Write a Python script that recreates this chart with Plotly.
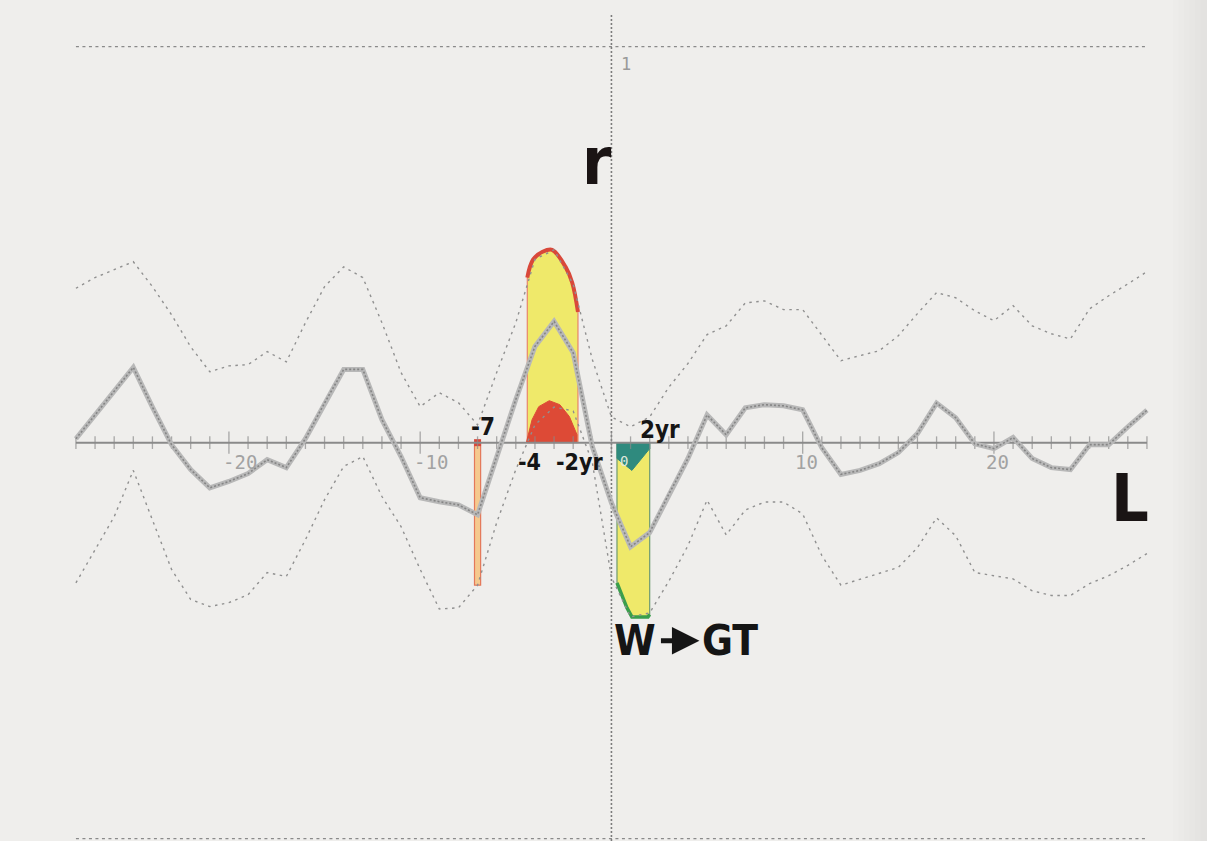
import plotly.graph_objects as go

# ---- cross-correlation r(L) of W against GT, lags in years ----
lags = list(range(-28, 29))

ccf = [0.01, 0.07, 0.13, 0.19, 0.09, -0.005, -0.068, -0.114, -0.098, -0.078,
       -0.043, -0.063, 0.01, 0.10, 0.185, 0.185, 0.058, -0.035, -0.139, -0.149,
       -0.157, -0.182, -0.035, 0.109, 0.243, 0.306, 0.227, -0.01, -0.152, -0.263,
       -0.227, -0.13, -0.04, 0.07, 0.02, 0.088, 0.096, 0.093, 0.083, -0.013,
       -0.08, -0.07, -0.053, -0.025, 0.023, 0.10, 0.063, -0.003, -0.015, 0.013,
       -0.04, -0.063, -0.068, -0.005, -0.005, 0.04, 0.082]

upper = [0.39, 0.417, 0.437, 0.457, 0.394, 0.323, 0.242, 0.179, 0.194, 0.197,
         0.23, 0.204, 0.303, 0.394, 0.444, 0.417, 0.303, 0.177, 0.091, 0.126,
         0.101, 0.045, 0.177, 0.303, 0.463, 0.487, 0.40, 0.21, 0.065, 0.04,
         0.065, 0.14, 0.20, 0.273, 0.295, 0.353, 0.358, 0.336, 0.336, 0.273,
         0.207, 0.22, 0.232, 0.27, 0.326, 0.379, 0.366, 0.333, 0.308, 0.346,
         0.295, 0.275, 0.262, 0.338, 0.371, 0.401, 0.432]

lower = [-0.354, -0.27, -0.187, -0.07, -0.194, -0.32, -0.396, -0.414, -0.404, -0.384,
         -0.328, -0.338, -0.245, -0.144, -0.06, -0.035, -0.136, -0.212, -0.32, -0.42,
         -0.417, -0.36, -0.202, -0.068, 0.045, 0.09, 0.08, -0.05, -0.34, -0.44,
         -0.43, -0.35, -0.26, -0.145, -0.233, -0.17, -0.15, -0.15, -0.18, -0.285,
         -0.36, -0.345, -0.33, -0.315, -0.265, -0.19, -0.235, -0.328, -0.336, -0.344,
         -0.374, -0.386, -0.386, -0.356, -0.336, -0.31, -0.28]

# hand-marked significant lags
lead_lags = [-4.4, -4.1, -3.6, -3.1, -2.4, -2.05, -1.75]       # upper band over the peak
lead_top = [0.417, 0.462, 0.482, 0.487, 0.444, 0.404, 0.33]
core_lags = [-4.45, -4.15, -3.8, -3.25, -2.7, -2.2, -1.8]      # inner red hump
core_top = [0.0, 0.058, 0.091, 0.106, 0.096, 0.066, 0.02]
lag_lags = [0.29, 0.81, 1.07, 1.91, 2.0]                        # lower band under the trough
lag_bottom = [-0.354, -0.417, -0.44, -0.44, -0.434]
teal_lags = [0.29, 1.07, 2.0]
teal_bottom = [-0.04, -0.07, -0.015]
spike_lag = -7

tick_values = [-20, -10, 10, 20]
tick_labels = ["-20", "-10", "10", "20"]

PAPER = "#efeeec"
GREY = "#8a8a8a"
INK = "#151515"
BOLD = "DejaVu Sans Condensed, Liberation Sans Narrow, sans-serif"

fig = go.Figure()

# reference lines r = +1 / -1 and the L = 0 axis
for level in (1, -1):
    fig.add_trace(go.Scatter(x=[lags[0], lags[-1]], y=[level, level], mode="lines",
                             line=dict(color=GREY, width=1.3, dash="3px,3.5px"),
                             hoverinfo="skip"))
fig.add_trace(go.Scatter(x=[0, 0], y=[1.08, -1.01], mode="lines",
                         line=dict(color="#7c7c7c", width=1.6, dash="2px,2px"),
                         hoverinfo="skip"))

# highlighted regions
fig.add_trace(go.Scatter(x=[lead_lags[0]] + lead_lags + [lead_lags[-1], lead_lags[0]],
                         y=[0] + lead_top + [0, 0], mode="lines", fill="toself",
                         fillcolor="#efe96a", line=dict(color="#e8856a", width=1.2),
                         hoverinfo="skip"))
fig.add_trace(go.Scatter(x=[core_lags[0]] + core_lags + [core_lags[-1]],
                         y=[0] + core_top + [0], mode="lines", fill="toself",
                         fillcolor="#dd4a36", line=dict(color="#dd4a36", width=1),
                         hoverinfo="skip"))
fig.add_trace(go.Scatter(x=lead_lags, y=lead_top, mode="lines",
                         line=dict(color="#d9483a", width=4, shape="spline"),
                         hoverinfo="skip"))

fig.add_trace(go.Scatter(x=[lag_lags[0]] + lag_lags + [lag_lags[-1], lag_lags[0]],
                         y=[0] + lag_bottom + [0, 0], mode="lines", fill="toself",
                         fillcolor="#efe96a", line=dict(color="#6f9a70", width=1.2),
                         hoverinfo="skip"))
fig.add_trace(go.Scatter(x=lag_lags, y=lag_bottom, mode="lines",
                         line=dict(color="#3a9e4c", width=3.5), hoverinfo="skip"))
fig.add_trace(go.Scatter(x=[teal_lags[0]] + teal_lags + [teal_lags[-1], teal_lags[0]],
                         y=[0] + teal_bottom + [0, 0], mode="lines", fill="toself",
                         fillcolor="#2f8a7e", line=dict(color="#2f8a7e", width=1),
                         hoverinfo="skip"))

spike_value = lower[lags.index(spike_lag)]
fig.add_trace(go.Bar(x=[spike_lag], y=[spike_value], width=0.32,
                     marker=dict(color="#f5c98e", line=dict(color="#e4785a", width=1.2)),
                     hoverinfo="skip"))
fig.add_trace(go.Scatter(x=[spike_lag], y=[0], mode="markers",
                         marker=dict(symbol="square", size=7, color="#d9483a"),
                         hoverinfo="skip"))

# confidence bands
for band in (upper, lower):
    fig.add_trace(go.Scatter(x=lags, y=band, mode="lines",
                             line=dict(color="#909090", width=1.4, dash="2.5px,4.5px"),
                             hoverinfo="skip"))

# L axis with a tick at every lag
fig.add_trace(go.Scatter(x=[lags[0], lags[-1]], y=[0, 0], mode="lines",
                         line=dict(color=GREY, width=2), hoverinfo="skip"))
fig.add_trace(go.Scatter(x=lags, y=[0] * len(lags), mode="markers",
                         marker=dict(symbol="line-ns",
                                     size=[16 if v % 10 == 0 else 9 for v in lags],
                                     line=dict(color=GREY, width=1.3)),
                         hoverinfo="skip"))

# the correlation itself, printed as a beaded trace
fig.add_trace(go.Scatter(x=lags, y=ccf, mode="lines",
                         line=dict(color="#b8b8b8", width=5), hoverinfo="skip"))
fig.add_trace(go.Scatter(x=lags, y=ccf, mode="lines",
                         line=dict(color="#858585", width=1.6, dash="2px,2px"),
                         hoverinfo="skip"))

ann = []
for v, t in zip(tick_values, tick_labels):
    ann.append(dict(x=v, y=0, text=t, showarrow=False, yshift=-19,
                    xshift=11 if v < 0 else 4,
                    font=dict(family="DejaVu Sans Mono", size=19, color="#a2a2a2")))
ann.append(dict(x=0, y=1, text="1", showarrow=False, xshift=15, yshift=-17,
                font=dict(family="DejaVu Sans Mono", size=17, color="#9a9a9a")))
ann.append(dict(x=0, y=0, text="0", showarrow=False, xshift=13, yshift=-18,
                font=dict(family="DejaVu Sans Mono", size=14, color="#dfe8dc")))

mark_font = dict(family=BOLD, size=23, color=INK)
ann.append(dict(x=spike_lag, y=0, text="<b>-7</b>", showarrow=False, xshift=5, yshift=16,
                font=dict(family=BOLD, size=24, color=INK)))
ann.append(dict(x=-4, y=0, text="<b>-4</b>", showarrow=False, xshift=-5, yshift=-19,
                font=mark_font))
ann.append(dict(x=-2, y=0, text="<b>-2yr</b>", showarrow=False, xshift=6, yshift=-19,
                font=mark_font))
ann.append(dict(x=2, y=0, text="<b>2yr</b>", showarrow=False, xshift=10, yshift=13,
                font=dict(family=BOLD, size=24, color=INK)))

# direction of influence: W -> GT
big = dict(family=BOLD, size=42, color=INK)
ann.append(dict(x=0, y=-0.5, text="<b>W</b>", showarrow=False, xanchor="left",
                xshift=1, font=big))
ann.append(dict(x=0, y=-0.5, text="<b>GT</b>", showarrow=False, xanchor="left",
                xshift=89, font=big))
ann.append(dict(x=0, y=-0.5, text="", showarrow=True, xshift=88, yshift=0,
                ax=-40, ay=0, arrowhead=2, arrowsize=1.1, arrowwidth=5,
                arrowcolor=INK, standoff=0, startstandoff=0))

ann.append(dict(x=0, y=0.71, text="<b>r</b>", showarrow=False, xanchor="right",
                xshift=3, font=dict(family=BOLD, size=66, color="#1a1414")))
ann.append(dict(x=lags[-1], y=-0.14, text="<b>L</b>", showarrow=False, xanchor="right",
                xshift=4, font=dict(family=BOLD, size=66, color="#1a1414")))

# scanner shading along the right edge
shapes = []
for i in range(6):
    shapes.append(dict(type="rect", xref="paper", yref="paper",
                       x0=0.972 + i * 0.0045, x1=1, y0=0, y1=1,
                       fillcolor="rgba(60,60,60,0.012)", line=dict(width=0), layer="below"))

fig.update_layout(
    width=1207, height=841,
    margin=dict(l=0, r=0, t=0, b=0),
    paper_bgcolor=PAPER, plot_bgcolor=PAPER,
    showlegend=False,
    xaxis=dict(range=[-31.97, 31.14], visible=False, fixedrange=True),
    yaxis=dict(range=[-1.006, 1.118], visible=False, fixedrange=True),
    annotations=ann, shapes=shapes,
)

fig.write_html("out.html")
